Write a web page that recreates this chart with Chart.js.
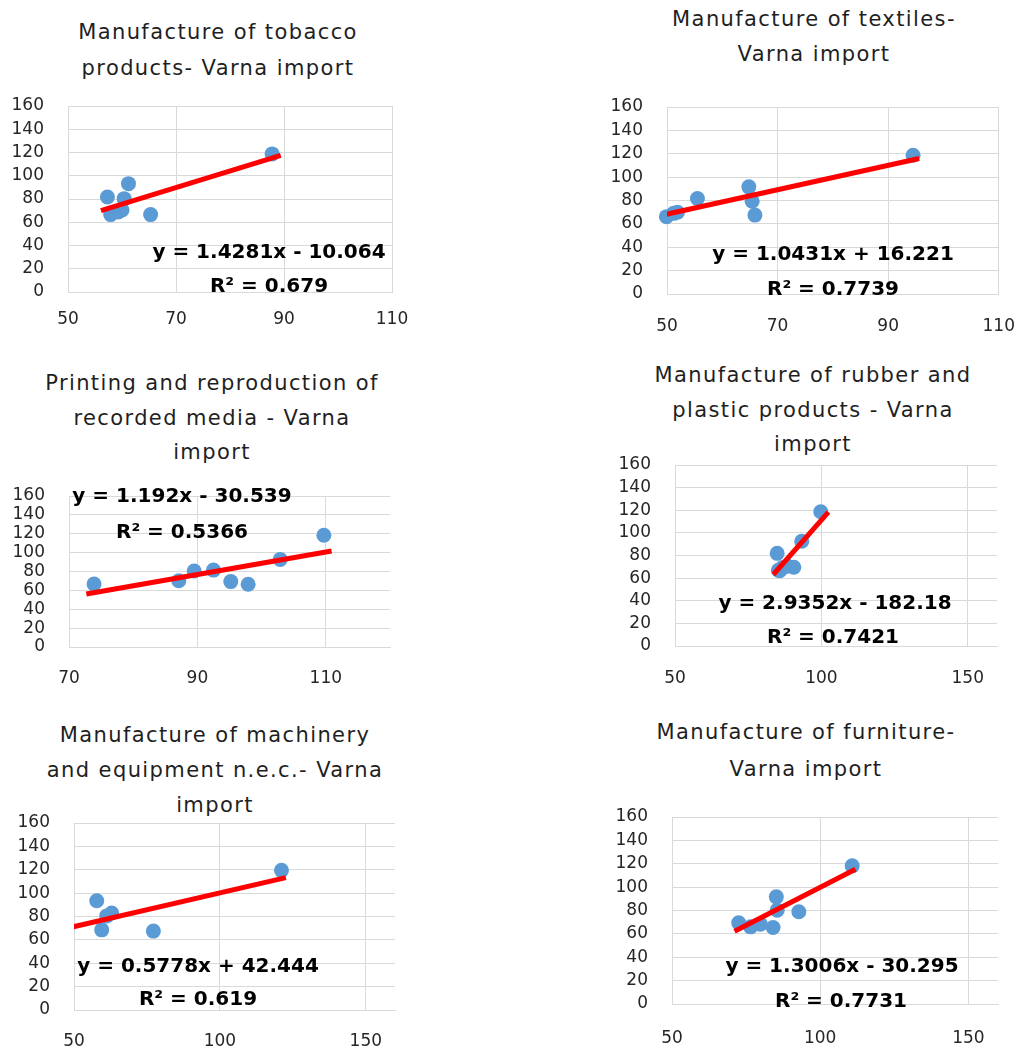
<!DOCTYPE html>
<html>
<head>
<meta charset="utf-8">
<script src="https://cdn.jsdelivr.net/npm/chart.js@4.4.1/dist/chart.umd.min.js"></script>
<style>
  html, body { margin: 0; padding: 0; background: #ffffff; }
  body { width: 1019px; height: 1048px; position: relative; overflow: hidden; font-family: "DejaVu Sans", sans-serif; }
  canvas { position: absolute; }
  .title { position: absolute; text-align: center; font-size: 21px; letter-spacing: 1.4px;
           color: #1f1f1f; white-space: nowrap; transform: translateX(-50%); }
</style>
</head>
<body>
<script>
// ---- shared axis ticks ----
const yTicks = [0, 20, 40, 60, 80, 100, 120, 140, 160];
const xTicksNarrow = [50, 70, 90, 110];
const xTicksPrinting = [70, 90, 110];
const xTicksWide = [50, 100, 150];
const xRangeNarrow = [50, 110];
const xRangePrinting = [70, 120];
const xRangeWide = [50, 160];

// ---- Manufacture of tobacco products ----
const tobaccoTitle = ['Manufacture of tobacco', 'products- Varna import'];
const tobaccoX = [57.3, 57.9, 59.3, 60.0, 60.4, 61.2, 65.3, 87.8];
const tobaccoY = [81.7, 66.6, 68.9, 70.5, 80.3, 93.2, 66.6, 118.8];
const tobaccoFit = [1.4281, -10.064];
const tobaccoR2 = 0.679;
const tobaccoTrendX = [56.1, 89.4];

// ---- Manufacture of textiles ----
const textilesTitle = ['Manufacture of textiles-', 'Varna import'];
const textilesX = [49.9, 51.2, 51.9, 55.5, 64.8, 65.4, 65.9, 94.5];
const textilesY = [66.2, 69.0, 70.0, 81.7, 91.7, 79.4, 67.5, 118.7];
const textilesFit = [1.0431, 16.221];
const textilesR2 = 0.7739;
const textilesTrendX = [49.9, 95.6];

// ---- Printing and reproduction of recorded media ----
const printingTitle = ['Printing and reproduction of', 'recorded media - Varna', 'import'];
const printingX = [73.9, 87.1, 89.5, 92.5, 95.2, 97.9, 102.9, 109.7];
const printingY = [66.7, 70.2, 80.5, 81.5, 69.3, 66.5, 92.8, 118.4];
const printingFit = [1.192, -30.539];
const printingR2 = 0.5366;
const printingTrendX = [72.7, 110.9];

// ---- Manufacture of rubber and plastic products ----
const rubberTitle = ['Manufacture of rubber and', 'plastic products - Varna', 'import'];
const rubberX = [84.9, 85.3, 86.8, 88.5, 90.6, 93.3, 99.8, 85.8];
const rubberY = [81.9, 67.0, 69.5, 70.5, 69.6, 92.6, 118.7, 66.5];
const rubberFit = [2.9352, -182.18];
const rubberR2 = 0.7421;
const rubberTrendX = [83.6, 102.4];

// ---- Manufacture of machinery and equipment n.e.c. ----
const machineryTitle = ['Manufacture of machinery', 'and equipment n.e.c.- Varna', 'import'];
const machineryX = [44.0, 44.5, 57.8, 59.5, 61.2, 62.9, 77.2, 121.1];
const machineryY = [69.9, 66.4, 93.5, 68.6, 80.5, 83.0, 67.5, 119.5];
const machineryFit = [0.5778, 42.444];
const machineryR2 = 0.619;
const machineryTrendX = [44.0, 122.6];

// ---- Manufacture of furniture ----
const furnitureTitle = ['Manufacture of furniture-', 'Varna import'];
const furnitureX = [72.5, 76.5, 79.8, 84.1, 85.2, 85.5, 92.8, 110.8];
const furnitureY = [69.5, 66.0, 68.3, 65.5, 91.7, 80.3, 78.9, 118.2];
const furnitureFit = [1.3006, -30.295];
const furnitureR2 = 0.7731;
const furnitureTrendX = [71.1, 111.9];

// ---- page placement of each plot area, title and fit label ----
// room around the plot area: Chart.js adds tick padding to the label overhang
const Y_AXIS_W = 60, PAD_TOP = 38, PAD_RIGHT = 38, X_AXIS_H = 50;

const panels = [
  { title: tobaccoTitle, xs: tobaccoX, ys: tobaccoY, fit: tobaccoFit, r2: tobaccoR2, trendX: tobaccoTrendX,
    ticks: xTicksNarrow, range: xRangeNarrow, xPad: 17,
    box: { left: 68, top: 106, w: 324, h: 186 }, titlePos: [218, 14], lineH: 36, eqPos: [269, 253], r2Pos: [269, 287] },
  { title: textilesTitle, xs: textilesX, ys: textilesY, fit: textilesFit, r2: textilesR2, trendX: textilesTrendX,
    ticks: xTicksNarrow, range: xRangeNarrow, xPad: 22,
    box: { left: 667, top: 107, w: 332, h: 187 }, titlePos: [814, 2], lineH: 35, eqPos: [833, 255], r2Pos: [833, 290] },
  { title: printingTitle, xs: printingX, ys: printingY, fit: printingFit, r2: printingR2, trendX: printingTrendX,
    ticks: xTicksPrinting, range: xRangePrinting, xPad: 21,
    box: { left: 69, top: 496, w: 321, h: 151 }, titlePos: [212, 366], lineH: 34.5, eqPos: [182, 497], r2Pos: [182, 533] },
  { title: rubberTitle, xs: rubberX, ys: rubberY, fit: rubberFit, r2: rubberR2, trendX: rubberTrendX,
    ticks: xTicksWide, range: xRangeWide, xPad: 22,
    box: { left: 675, top: 465, w: 322, h: 181 }, titlePos: [813, 358], lineH: 34.5, eqPos: [835, 604], r2Pos: [833, 638] },
  { title: machineryTitle, xs: machineryX, ys: machineryY, fit: machineryFit, r2: machineryR2, trendX: machineryTrendX,
    ticks: xTicksWide, range: xRangeWide, xPad: 21,
    box: { left: 74, top: 823, w: 321, h: 187 }, titlePos: [215, 718], lineH: 35, eqPos: [198, 967], r2Pos: [198, 1000] },
  { title: furnitureTitle, xs: furnitureX, ys: furnitureY, fit: furnitureFit, r2: furnitureR2, trendX: furnitureTrendX,
    ticks: xTicksWide, range: xRangeWide, xPad: 24,
    box: { left: 672, top: 817, w: 326, h: 187 }, titlePos: [806, 714], lineH: 37, eqPos: [842, 967], r2Pos: [841, 1002] }
];

// Writes the trendline equation and R² onto the chart
const fitLabelPlugin = {
  id: 'fitLabel',
  afterDatasetsDraw(chart, args, opts) {
    const ctx = chart.ctx;
    ctx.save();
    ctx.font = 'bold 20px "DejaVu Sans"';
    ctx.fillStyle = '#000000';
    ctx.textAlign = 'center';
    ctx.textBaseline = 'middle';
    (opts.lines || []).forEach(l => ctx.fillText(l.text, l.x, l.y));
    ctx.restore();
  }
};

function equationText(fit) {
  const [slope, intercept] = fit;
  return 'y = ' + slope + 'x ' + (intercept < 0 ? '-' : '+') + ' ' + Math.abs(intercept);
}

const gridColor = '#d9d9d9';
const tickFont = { family: '"DejaVu Sans"', size: 17 };
const tickColor = '#262626';

panels.forEach(p => {
  // title
  const t = document.createElement('div');
  t.className = 'title';
  t.style.left = p.titlePos[0] + 'px';
  t.style.top = p.titlePos[1] + 'px';
  t.style.lineHeight = p.lineH + 'px';
  t.innerHTML = p.title.join('<br>');
  document.body.appendChild(t);

  // canvas
  const canvasLeft = p.box.left - Y_AXIS_W;
  const canvasTop = p.box.top - PAD_TOP;
  const cw = Y_AXIS_W + p.box.w + PAD_RIGHT;
  const ch = PAD_TOP + p.box.h + X_AXIS_H;
  const c = document.createElement('canvas');
  c.width = cw; c.height = ch;
  c.style.left = canvasLeft + 'px';
  c.style.top = canvasTop + 'px';
  c.style.width = cw + 'px';
  c.style.height = ch + 'px';
  document.body.appendChild(c);

  const points = p.xs.map((x, i) => ({ x: x, y: p.ys[i] }));
  const [slope, intercept] = p.fit;
  const trend = p.trendX.map(x => ({ x: x, y: slope * x + intercept }));

  new Chart(c.getContext('2d'), {
    type: 'scatter',
    data: {
      datasets: [
        { label: 'Linear', data: trend, showLine: true, borderColor: '#ff0000', borderWidth: 5,
          pointRadius: 0, borderCapStyle: 'butt', clip: 0, order: 0 },
        { label: 'Varna import', data: points, backgroundColor: '#5b9bd5', borderWidth: 0,
          pointRadius: 7.5, clip: 8, order: 1 }
      ]
    },
    options: {
      responsive: false,
      animation: false,
      devicePixelRatio: 1,
      events: [],
      layout: { padding: { top: PAD_TOP, right: PAD_RIGHT, left: 0, bottom: 0 } },
      plugins: {
        legend: { display: false },
        tooltip: { enabled: false },
        fitLabel: {
          lines: [
            { text: equationText(p.fit), x: p.eqPos[0] - canvasLeft, y: p.eqPos[1] - canvasTop },
            { text: 'R² = ' + p.r2, x: p.r2Pos[0] - canvasLeft, y: p.r2Pos[1] - canvasTop }
          ]
        }
      },
      scales: {
        x: {
          type: 'linear', min: p.range[0], max: p.range[1],
          afterBuildTicks: axis => { axis.ticks = p.ticks.map(v => ({ value: v })); },
          afterFit: s => { s.height = X_AXIS_H; },
          grid: { color: gridColor, lineWidth: 1, drawTicks: false },
          border: { color: gridColor, width: 1 },
          ticks: { font: tickFont, color: tickColor, padding: p.xPad, maxRotation: 0, autoSkip: false }
        },
        y: {
          type: 'linear', min: 0, max: 160,
          afterBuildTicks: axis => { axis.ticks = yTicks.map(v => ({ value: v })); },
          afterFit: s => { s.width = Y_AXIS_W; },
          grid: { color: gridColor, lineWidth: 1, drawTicks: false },
          border: { color: gridColor, width: 1 },
          ticks: { font: tickFont, color: tickColor, padding: 24, autoSkip: false }
        }
      }
    },
    plugins: [fitLabelPlugin]
  });
});
</script>
</body>
</html>
